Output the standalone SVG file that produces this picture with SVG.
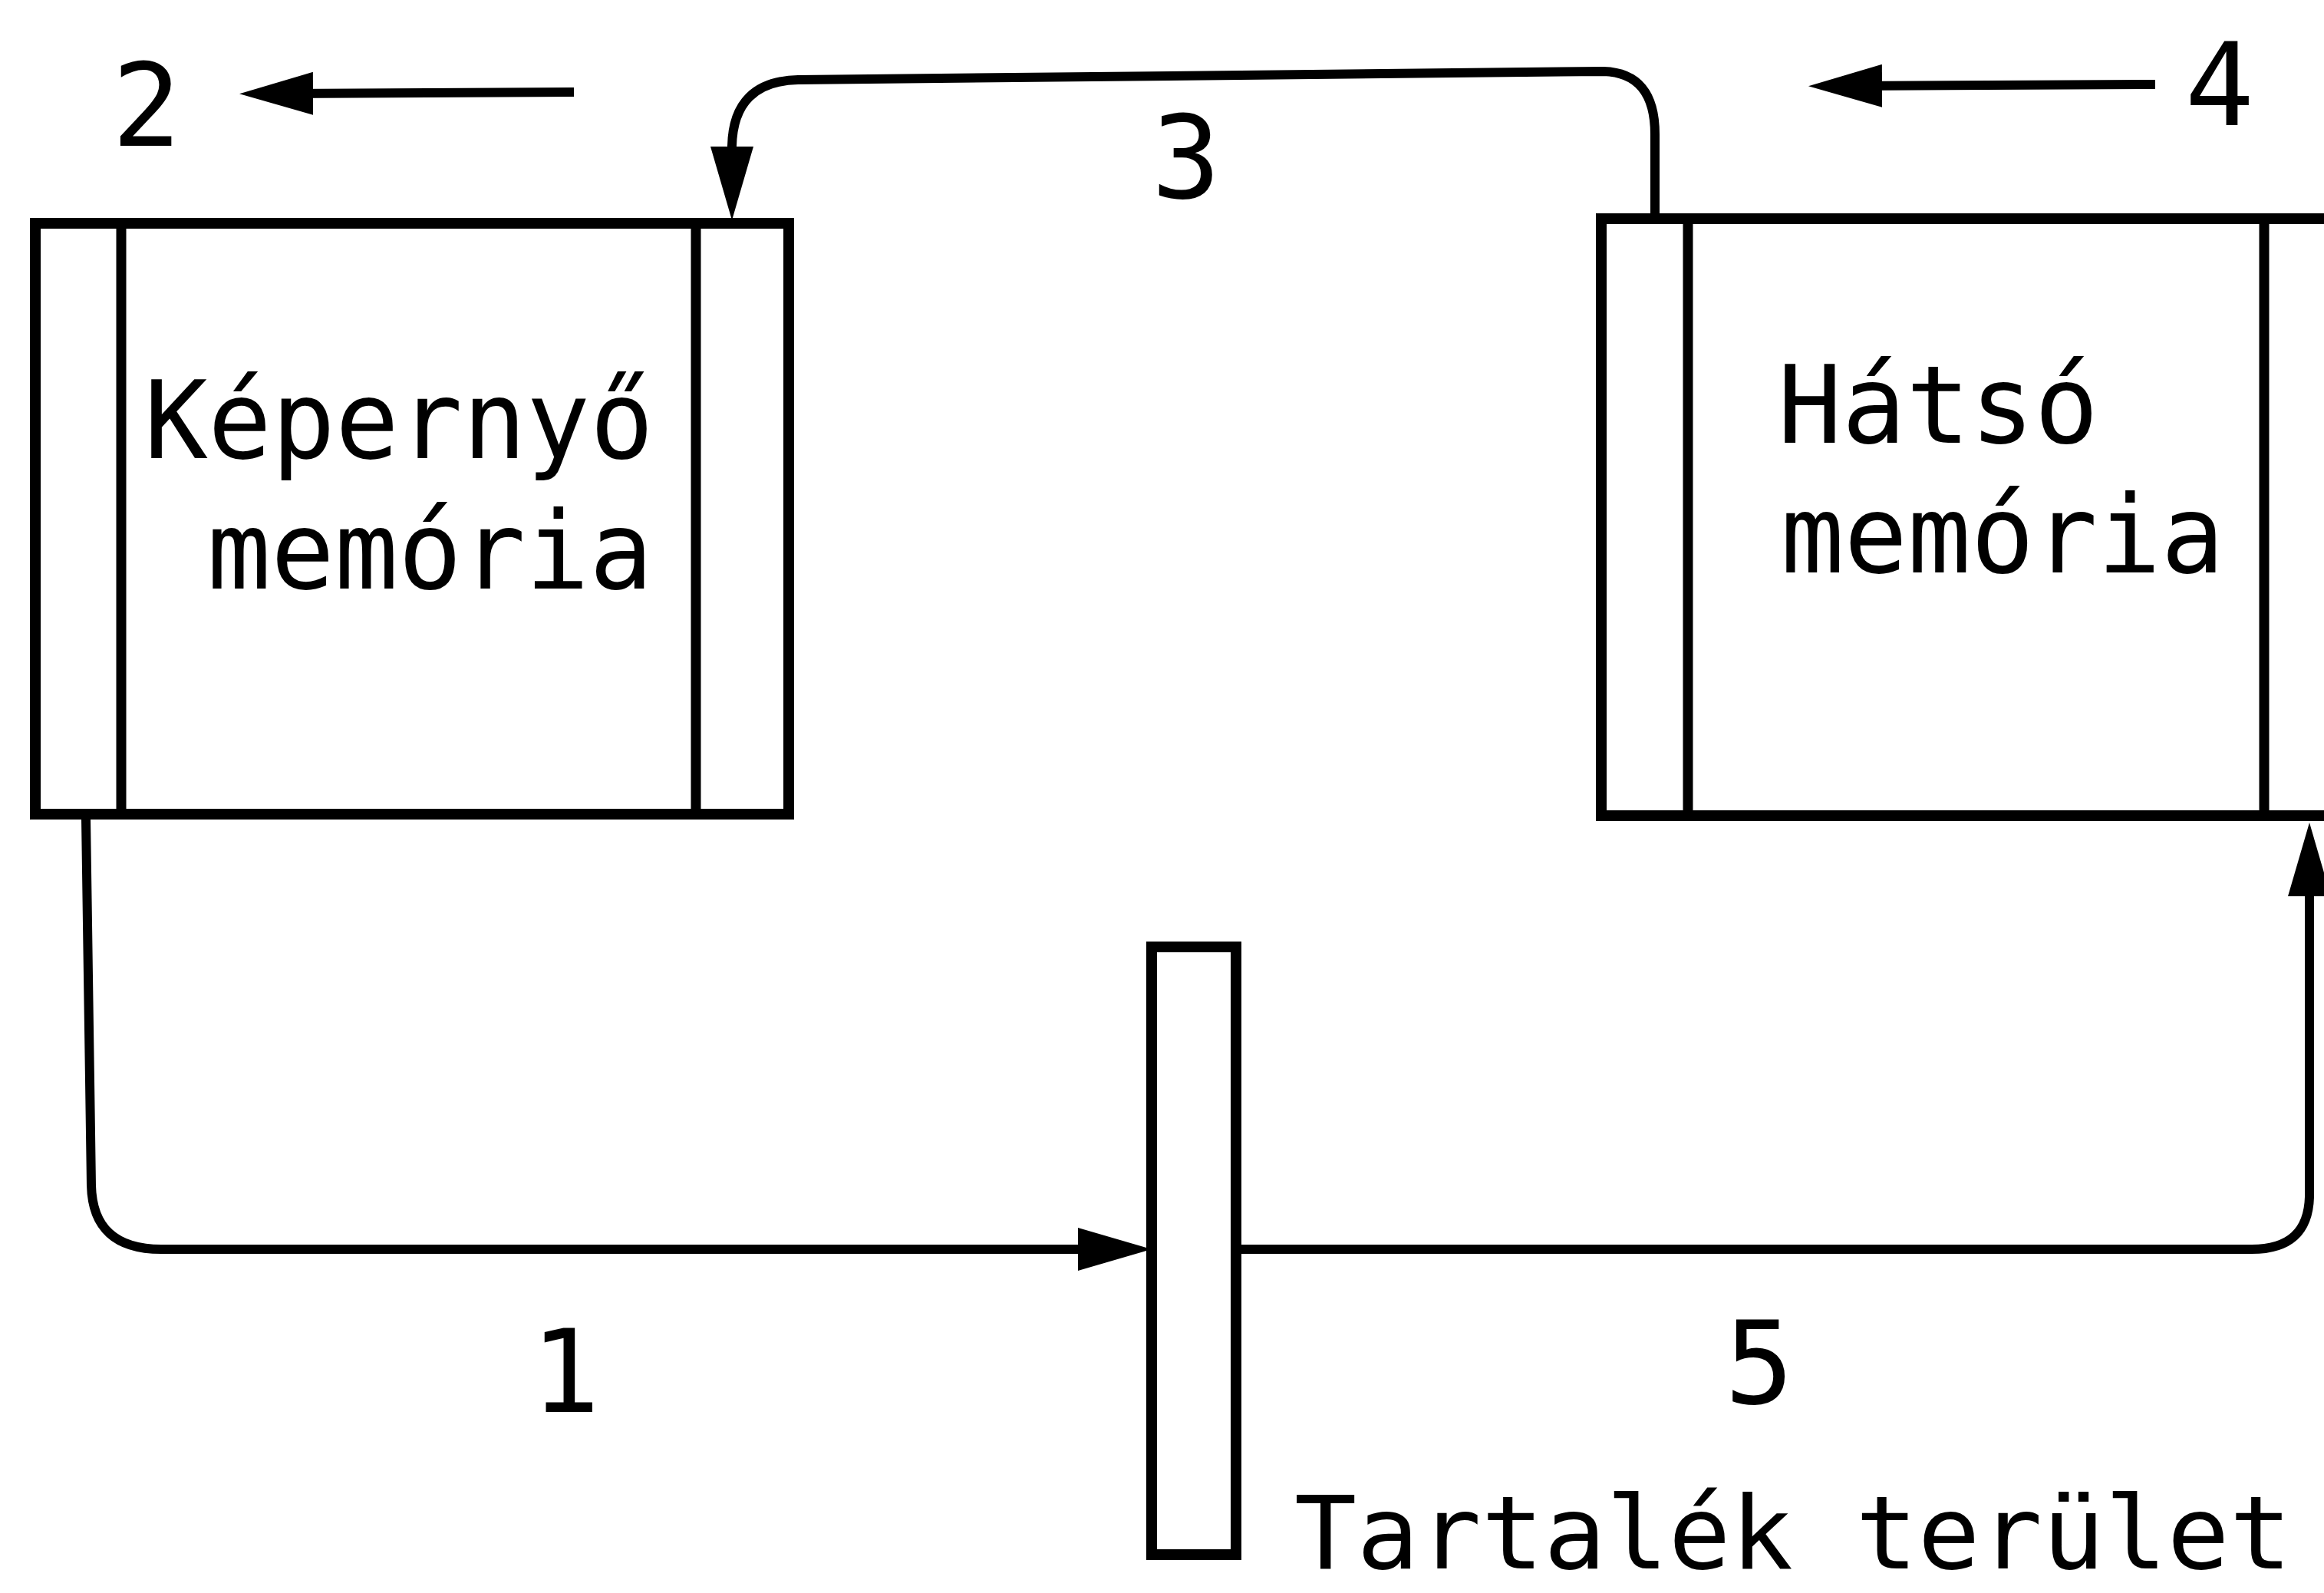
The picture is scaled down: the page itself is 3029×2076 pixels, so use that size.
<svg xmlns="http://www.w3.org/2000/svg" width="3029" height="2076" viewBox="0 0 3029 2076">
  <style>
    .box { fill: none; stroke: #000; stroke-width: 14; stroke-linejoin: miter; }
    .div { fill: none; stroke: #000; stroke-width: 13; }
    .wire { fill: none; stroke: #000; stroke-width: 12; stroke-linecap: butt; stroke-linejoin: round; }
    .lbl { font-family: "DejaVu Sans Mono", "Liberation Mono", monospace; font-size: 140px; fill: #000; }
    .lbl.small { font-size: 132px; }
    .num { font-family: "DejaVu Sans Mono", "Liberation Mono", monospace; font-size: 150px; fill: #000; text-anchor: middle; }
  </style>
  <defs>
    <!-- long narrow arrowhead; the line stops 60 units short of the tip -->
    <marker id="head" markerUnits="userSpaceOnUse" markerWidth="98" markerHeight="56" refX="36" refY="28" orient="auto">
      <path d="M0,0 L96,28 L0,56 Z" fill="#000"/>
    </marker>
  </defs>

  <rect x="0" y="0" width="3029" height="2076" fill="#fff"/>

  <!-- screen memory block -->
  <g id="node-kepernyo">
    <rect class="box" x="46" y="291" width="982" height="770"/>
    <line class="div" x1="158" y1="291" x2="158" y2="1061"/>
    <line class="div" x1="907" y1="291" x2="907" y2="1061"/>
    <text class="lbl" x="188" y="597" textLength="664" lengthAdjust="spacingAndGlyphs">Képernyő</text>
    <text class="lbl" x="270" y="767" textLength="581" lengthAdjust="spacingAndGlyphs">memória</text>
  </g>

  <!-- back memory block (runs past the right edge) -->
  <g id="node-hatso">
    <rect class="box" x="2087" y="285" width="1010" height="778"/>
    <line class="div" x1="2200" y1="285" x2="2200" y2="1063"/>
    <line class="div" x1="2951" y1="285" x2="2951" y2="1063"/>
    <text class="lbl" x="2317" y="577" textLength="418" lengthAdjust="spacingAndGlyphs">Hátsó</text>
    <text class="lbl" x="2321" y="746" textLength="578" lengthAdjust="spacingAndGlyphs">memória</text>
  </g>

  <!-- reserve area -->
  <g id="node-tartalek">
    <rect class="box" x="1501" y="1234" width="110" height="792"/>
    <text class="lbl small" x="1687" y="2044" textLength="1300" lengthAdjust="spacingAndGlyphs">Tartalék terület</text>
  </g>

  <g id="connectors">
    <!-- 1: screen memory to reserve area -->
    <path class="wire" d="M112,1067 L119,1545 Q121,1628 210,1628 L1441,1628" marker-end="url(#head)"/>
    <!-- 2: outgoing from screen memory -->
    <path class="wire" d="M748,120 L372,122" marker-end="url(#head)"/>
    <!-- 3: back memory to screen memory -->
    <path class="wire" d="M2157,279 L2157,175 Q2157,95 2090,93 L1040,104 Q956,106 954,190 L954,227" marker-end="url(#head)"/>
    <!-- 4: incoming towards back memory -->
    <path class="wire" d="M2809,110 L2417,112" marker-end="url(#head)"/>
    <!-- 5: reserve area to back memory -->
    <path class="wire" d="M1611,1628 L2935,1628 Q3008,1628 3010,1560 L3010,1132" marker-end="url(#head)"/>

    <text class="num" x="191" y="190">2</text>
    <text class="num" x="1546" y="258">3</text>
    <text class="num" x="2893" y="163">4</text>
    <text class="num" x="737" y="1840">1</text>
    <text class="num" x="2293" y="1829">5</text>
  </g>
</svg>
